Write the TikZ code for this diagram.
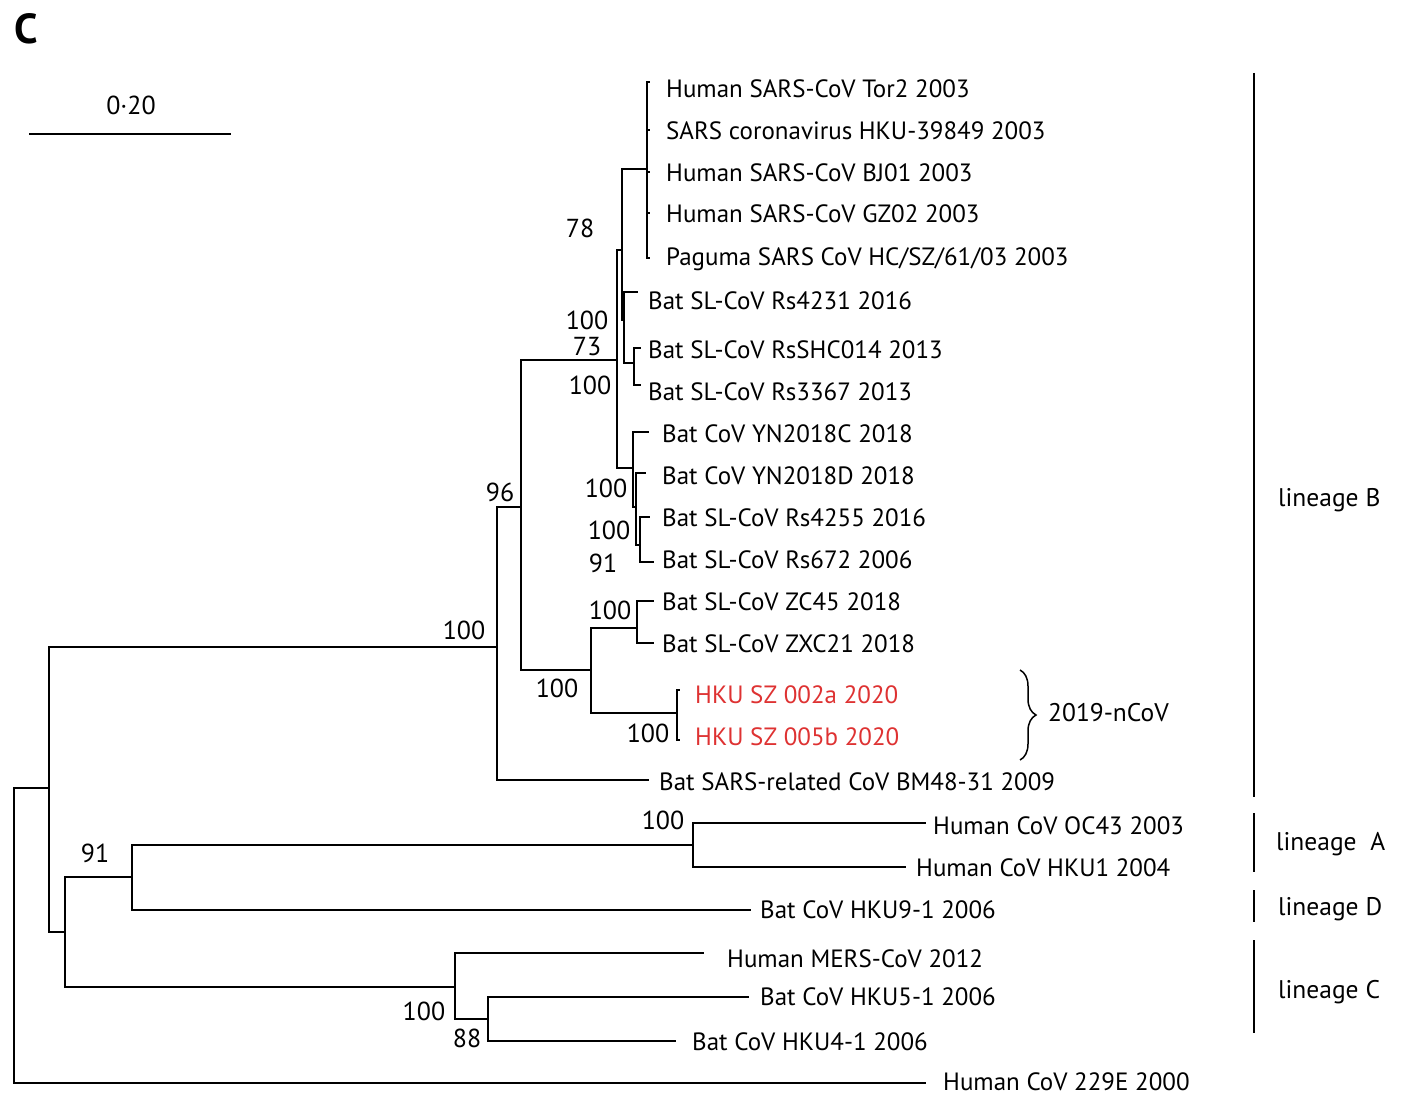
\documentclass[tikz,border=0pt]{standalone}
\usepackage{fontspec}
\setmainfont{PT Sans}
\usetikzlibrary{decorations.pathreplacing}
\definecolor{ncov}{RGB}{222,50,50}
\tikzset{
  br/.style={line width=1.8pt, line cap=rect},
  tip/.style={anchor=base west, inner sep=0pt, font=\fontsize{25}{30}\selectfont},
  boot/.style={anchor=center, inner sep=0pt, font=\fontsize{26}{30}\selectfont},
  bar/.style={line width=2.4pt},
  lin/.style={anchor=west, inner sep=0pt, font=\fontsize{25.5}{30}\selectfont},
}
\begin{document}
\begin{tikzpicture}[x=1pt,y=-1pt]
\useasboundingbox (0,0) rectangle (1406,1108);
% panel letter and scale
\node[anchor=center, font=\fontsize{42}{44}\selectfont\bfseries] (panel) at (26,29) {C};
\coordinate (sb1) at (30,134);
\coordinate (sb2) at (230,134);
\draw[br] (sb1) -- (sb2);
\node[boot] (sbl) at (131,105) {0·20};
% internal nodes
\coordinate (r) at (14,788);
\coordinate (n1) at (49,788);
\coordinate (n2) at (497,647);
\coordinate (n4) at (521,507);
\coordinate (A) at (617,360);
\coordinate (B) at (622,250);
\coordinate (S) at (647,169);
\coordinate (C) at (624,320);
\coordinate (D) at (634,363);
\coordinate (E) at (633,468);
\coordinate (F) at (636,507);
\coordinate (G) at (640,545);
\coordinate (n5) at (591,670);
\coordinate (n6) at (637,628);
\coordinate (H) at (677,713);
\coordinate (n3) at (65,932);
\coordinate (n7) at (132,877);
\coordinate (n9) at (693,845);
\coordinate (n8) at (455,987);
\coordinate (n10) at (488,1019);
% tip ends
\coordinate (eTor2) at (649,82);
\coordinate (eHKU39) at (649,130);
\coordinate (eBJ01) at (649,172);
\coordinate (eGZ02) at (649,213);
\coordinate (ePag) at (649,258);
\coordinate (eRs4231) at (637,292);
\coordinate (eSHC) at (640,348);
\coordinate (eRs3367) at (640,385);
\coordinate (eYNC) at (648,432);
\coordinate (eYND) at (645,473);
\coordinate (eRs4255) at (649,517);
\coordinate (eRs672) at (653,562);
\coordinate (eZC45) at (653,601);
\coordinate (eZXC21) at (653,643);
\coordinate (e002a) at (679,690);
\coordinate (e005b) at (679,740);
\coordinate (eBM) at (648,780);
\coordinate (eOC43) at (925,823);
\coordinate (eHKU1) at (905,867);
\coordinate (eHKU9) at (750,910);
\coordinate (eMERS) at (703,953);
\coordinate (eHKU5) at (748,997);
\coordinate (eHKU4) at (675,1041);
\coordinate (e229E) at (925,1083);
% branches
\draw[br] (r) -- (n1);
\draw[br] (r) |- (e229E);
\draw[br] (n1) |- (n2);
\draw[br] (n1) |- (n3);
\draw[br] (n2) |- (n4);
\draw[br] (n2) |- (eBM);
\draw[br] (n4) |- (A);
\draw[br] (n4) |- (n5);
\draw[br] (A) |- (B);
\draw[br] (A) |- (E);
\draw[br] (B) |- (S);
\draw[br] (B) |- (C);
\draw[br] (S) |- (eTor2);
\draw[br] (S) |- (eHKU39);
\draw[br] (S) |- (eBJ01);
\draw[br] (S) |- (eGZ02);
\draw[br] (S) |- (ePag);
\draw[br] (C) |- (eRs4231);
\draw[br] (C) |- (D);
\draw[br] (D) |- (eSHC);
\draw[br] (D) |- (eRs3367);
\draw[br] (E) |- (eYNC);
\draw[br] (E) |- (F);
\draw[br] (F) |- (eYND);
\draw[br] (F) |- (G);
\draw[br] (G) |- (eRs4255);
\draw[br] (G) |- (eRs672);
\draw[br] (n5) |- (n6);
\draw[br] (n5) |- (H);
\draw[br] (n6) |- (eZC45);
\draw[br] (n6) |- (eZXC21);
\draw[br] (H) |- (e002a);
\draw[br] (H) |- (e005b);
\draw[br] (n3) |- (n7);
\draw[br] (n3) |- (n8);
\draw[br] (n7) |- (n9);
\draw[br] (n7) |- (eHKU9);
\draw[br] (n9) |- (eOC43);
\draw[br] (n9) |- (eHKU1);
\draw[br] (n8) |- (eMERS);
\draw[br] (n8) |- (n10);
\draw[br] (n10) |- (eHKU5);
\draw[br] (n10) |- (eHKU4);
% tip labels
\node[tip] (lTor2) at (666,97) {Human SARS-CoV Tor2 2003};
\node[tip] (lHKU39) at (666,139) {SARS coronavirus HKU-39849 2003};
\node[tip] (lBJ01) at (666,181) {Human SARS-CoV BJ01 2003};
\node[tip] (lGZ02) at (666,222) {Human SARS-CoV GZ02 2003};
\node[tip] (lPag) at (666,265) {Paguma SARS CoV HC/SZ/61/03 2003};
\node[tip] (lRs4231) at (648,309) {Bat SL-CoV Rs4231 2016};
\node[tip] (lSHC) at (648,358) {Bat SL-CoV RsSHC014 2013};
\node[tip] (lRs3367) at (648,400) {Bat SL-CoV Rs3367 2013};
\node[tip] (lYNC) at (662,442) {Bat CoV YN2018C 2018};
\node[tip] (lYND) at (662,484) {Bat CoV YN2018D 2018};
\node[tip] (lRs4255) at (662,526) {Bat SL-CoV Rs4255 2016};
\node[tip] (lRs672) at (662,568) {Bat SL-CoV Rs672 2006};
\node[tip] (lZC45) at (662,610) {Bat SL-CoV ZC45 2018};
\node[tip] (lZXC21) at (662,652) {Bat SL-CoV ZXC21 2018};
\node[tip, text=ncov] (l002a) at (695,703) {HKU SZ 002a 2020};
\node[tip, text=ncov] (l005b) at (695,745) {HKU SZ 005b 2020};
\node[tip] (lBM) at (659,790) {Bat SARS-related CoV BM48-31 2009};
\node[tip] (lOC43) at (933,834) {Human CoV OC43 2003};
\node[tip] (lHKU1) at (916,876) {Human CoV HKU1 2004};
\node[tip] (lHKU9) at (760,918) {Bat CoV HKU9-1 2006};
\node[tip] (lMERS) at (727,967) {Human MERS-CoV 2012};
\node[tip] (lHKU5) at (760,1005) {Bat CoV HKU5-1 2006};
\node[tip] (lHKU4) at (692,1050) {Bat CoV HKU4-1 2006};
\node[tip] (l229E) at (943,1090) {Human CoV 229E 2000};
% bootstrap values
\node[boot] (b1) at (580,228) {78};
\node[boot] (b2) at (587,320) {100};
\node[boot] (b3) at (587,347) {73};
\node[boot] (b4) at (590,385) {100};
\node[boot] (b5) at (606,488) {100};
\node[boot] (b6) at (609,530) {100};
\node[boot] (b7) at (603,563) {91};
\node[boot] (b8) at (610,610) {100};
\node[boot] (b9) at (557,688) {100};
\node[boot] (b10) at (648,733) {100};
\node[boot] (b11) at (500,492) {96};
\node[boot] (b12) at (464,630) {100};
\node[boot] (b13) at (663,820) {100};
\node[boot] (b14) at (95,853) {91};
\node[boot] (b15) at (424,1011) {100};
\node[boot] (b16) at (467,1038) {88};
% brace
\coordinate (brT) at (1020,670);
\coordinate (brB) at (1020,760);
\draw[line width=1.5pt, decorate, decoration={brace, amplitude=16pt}] (brT) -- (brB);
\node[lin] (ncovl) at (1048,713) {2019-nCoV};
% lineage bars
\coordinate (bB1) at (1254,73);
\coordinate (bB2) at (1254,797);
\coordinate (bA1) at (1254,813);
\coordinate (bA2) at (1254,872);
\coordinate (bD1) at (1254,890);
\coordinate (bD2) at (1254,922);
\coordinate (bC1) at (1254,940);
\coordinate (bC2) at (1254,1033);
\draw[bar] (bB1) -- (bB2);
\draw[bar] (bA1) -- (bA2);
\draw[bar] (bD1) -- (bD2);
\draw[bar] (bC1) -- (bC2);
\node[lin] (linB) at (1278,500) {lineage B};
\node[lin] (linA) at (1276,844) {lineage\ \ A};
\node[lin] (linD) at (1278,909) {lineage D};
\node[lin] (linC) at (1278,992) {lineage C};
\end{tikzpicture}
\end{document}
